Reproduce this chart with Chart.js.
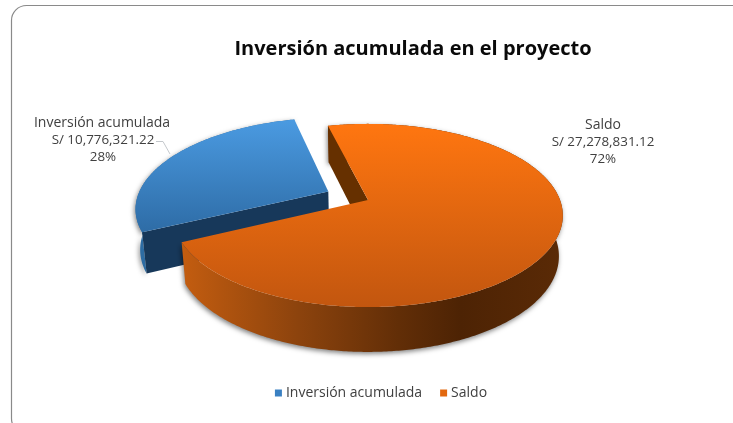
<!DOCTYPE html>
<html><head><meta charset="utf-8">
<style>html,body{margin:0;padding:0;background:#fff;overflow:hidden}#w{width:733px;height:423px}</style>
<script src="https://cdn.jsdelivr.net/npm/chart.js@4"></script></head>
<body><div id="w"><canvas id="c" width="733" height="423"></canvas></div>
<script>
const categories = ['Inversión acumulada', 'Saldo'];
const values = [10776321.22, 27278831.12];
const legendColors = ['#3a80c2', '#e2680f'];
const currency = 'S/ ';
const titleText = 'Inversión acumulada en el proyecto';
const FONT = '"Open Sans", sans-serif';

// view of the pie plane: tilt + perspective
const view = {tilt: 0.4635, persp: 0.169, sx: 0.98, sy: 1.045, depth: 40};
const sliceStyle = [
  {top: ['#4b9be2', '#2e6ca6'], wall: '#2d6ca3', cut: '#17385a', g: [118, 232]},
  {top: ['#ff7610', '#c2560f'], cut: '#663000', g: [124, 308]}
];
const wallStops = [[0, '#c65e10'], [0.32, '#8c430d'], [0.58, '#622e07'], [0.74, '#4d2304'], [1, '#5a2a06']];

const pie3d = {
  id: 'pie3d',
  afterLayout(chart) {
    const r = 192, cx = 368, cy = 200;
    chart.chartArea = {left: cx - r, right: cx + r, top: cy - r, bottom: cy + r, width: 2 * r, height: 2 * r};
    const t = chart.titleBlock;
    t.left = 113; t.right = 713; t.width = 600; t.top = 49.5 - t.height / 2; t.bottom = t.top + t.height;
    const l = chart.legend, w = l.width;
    l.left = 382.5 - w / 2; l.right = 382.5 + w / 2; l.top = 365; l.bottom = 365 + l.height;
  },
  beforeDraw(chart) {
    const c = chart.ctx;
    c.save();
    c.strokeStyle = '#8a8a8a'; c.lineWidth = 1.2;
    c.beginPath(); c.roundRect(11.5, 5.5, 900, 428, 15); c.stroke();
    c.restore();
  },
  beforeDatasetsDraw(chart) {
    const c = chart.ctx, arcs = chart.getDatasetMeta(0).data;
    arcs.forEach((el, i) => drawSlice(c, el, sliceStyle[i]));
    return false;
  },
  afterDraw(chart) {
    const c = chart.ctx, total = values.reduce((a, b) => a + b, 0);
    const spots = [[102, 123], [603, 125]];
    c.save();
    c.fillStyle = '#404040'; c.textAlign = 'center'; c.textBaseline = 'middle';
    categories.forEach((n, i) => {
      const [x, y] = spots[i];
      c.font = '14px ' + FONT;
      c.fillText(n, x, y);
      c.font = '13.4px ' + FONT;
      c.fillText(currency + values[i].toLocaleString('en-US', {minimumFractionDigits: 2, maximumFractionDigits: 2}), x + (i ? 0 : 1), y + 17);
      c.fillText(Math.round(values[i] / total * 100) + '%', x + (i ? 0 : 1), y + 34);
    });
    c.strokeStyle = '#c4c8cc'; c.lineWidth = 1;
    c.beginPath(); c.moveTo(156, 141.5); c.lineTo(163, 141.5); c.lineTo(170, 154); c.stroke();
    c.restore();
  }
};

function drawSlice(c, el, st) {
  const R = el.outerRadius, A = R * view.tilt, k = view.persp;
  const mid = (el.startAngle + el.endAngle) / 2, d = (el.options.offset || 0) / R;
  const ou = Math.cos(mid) * d, ov = Math.sin(mid) * d;
  const proj = (u0, v0, bottom) => {
    const u = u0 + ou, v = v0 + ov, w = 1 - k * v;
    return bottom
      ? [el.x + view.sx * R * u / w, el.y + view.depth + view.sy * A * v / w]
      : [el.x + R * u / w, el.y + A * v / w];
  };
  const rim = [];
  const n = Math.ceil((el.endAngle - el.startAngle) * 90);
  for (let i = 0; i <= n; i++) {
    const a = el.startAngle + (el.endAngle - el.startAngle) * i / n;
    rim.push([Math.cos(a), Math.sin(a)]);
  }
  const path = pts => { c.beginPath(); pts.forEach((p, i) => i ? c.lineTo(p[0], p[1]) : c.moveTo(p[0], p[1])); c.closePath(); };
  c.save();
  // outer wall with soft shadow
  const wallPts = rim.map(p => proj(p[0], p[1], false)).concat(rim.slice().reverse().map(p => proj(p[0], p[1], true)));
  let wall = st.wall;
  if (!wall) {
    wall = c.createLinearGradient(el.x - R, 0, el.x + R, 0);
    wallStops.forEach(s => wall.addColorStop(s[0], s[1]));
  }
  c.save();
  c.shadowColor = 'rgba(0,0,0,0.5)'; c.shadowBlur = 5; c.shadowOffsetX = -1; c.shadowOffsetY = 2;
  path(wallPts); c.fillStyle = wall; c.fill();
  c.restore();
  // visible cut wall at the slice's starting edge
  const p0 = rim[0];
  path([proj(0, 0, false), proj(p0[0], p0[1], false), proj(p0[0], p0[1], true), proj(0, 0, true)]);
  c.fillStyle = st.cut; c.fill();
  // top face
  const g = c.createLinearGradient(0, st.g[0], 0, st.g[1]);
  g.addColorStop(0, st.top[0]); g.addColorStop(1, st.top[1]);
  path([proj(0, 0, false)].concat(rim.map(p => proj(p[0], p[1], false))));
  c.fillStyle = g; c.fill();
  c.restore();
}

new Chart(document.getElementById('c'), {
  type: 'pie',
  data: {labels: categories, datasets: [{data: values, backgroundColor: legendColors, borderWidth: 0, offset: [44.5, 0], radius: 192}]},
  options: {
    responsive: false, animation: false, rotation: 244,
    plugins: {
      tooltip: {enabled: false},
      title: {display: true, text: titleText, color: '#0a0a0a', padding: 0, font: {family: FONT, size: 20, weight: 'bold'}},
      legend: {position: 'bottom', labels: {color: '#404040', usePointStyle: true, pointStyle: 'rect', boxWidth: 1, boxHeight: 7, padding: 21, font: {family: FONT, size: 14}}}
    }
  },
  plugins: [pie3d]
});
</script></body></html>
